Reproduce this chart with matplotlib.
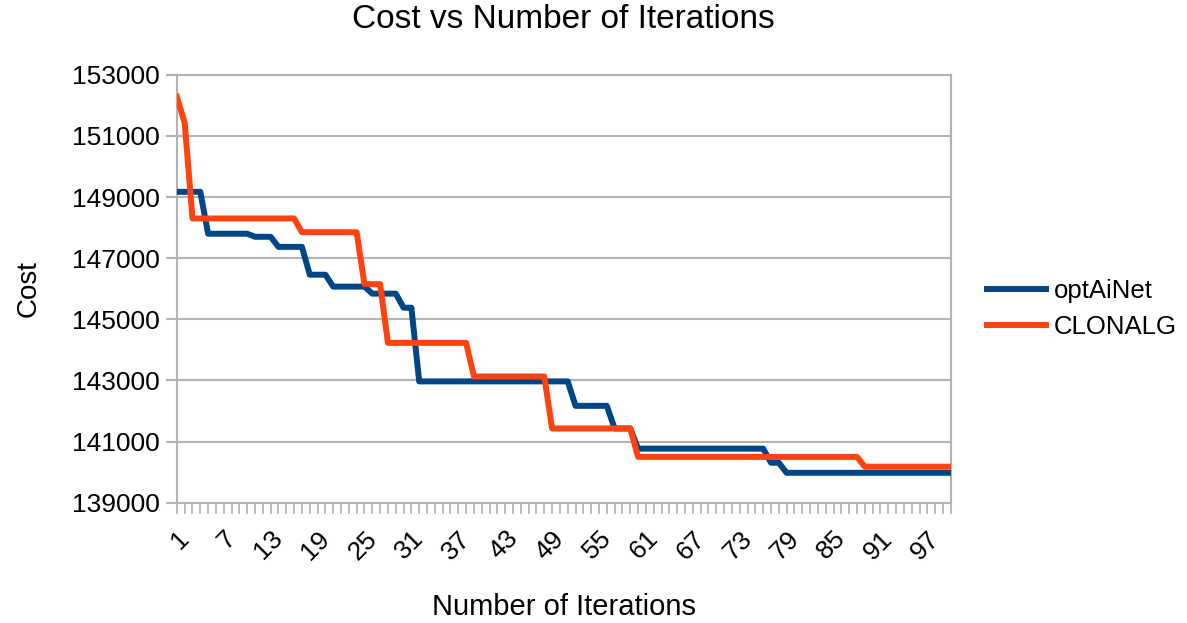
import numpy as np
import matplotlib
matplotlib.use("Agg")
import matplotlib.pyplot as plt

plt.rcParams["font.family"] = ["Liberation Sans", "DejaVu Sans"]

# iteration number 1..100
iterations = list(range(1, 101))

# optAiNet cost per iteration (step runs)
opt_runs = [
    (4, 149170), (6, 147800), (3, 147700), (4, 147370), (3, 146460),
    (5, 146070), (4, 145840), (2, 145380), (20, 142970), (5, 142170),
    (3, 141430), (17, 140770), (2, 140310), (22, 139980),
]
# CLONALG cost per iteration
clon_runs = [
    (1, 152280), (1, 151430), (14, 148300), (8, 147850), (3, 146150),
    (11, 144230), (10, 143130), (11, 141430), (29, 140500), (12, 140180),
]

opt_ainet = [v for n, v in opt_runs for _ in range(n)]
clonalg = [v for n, v in clon_runs for _ in range(n)]

tick_labels = [str(i) for i in range(1, 101, 6)]

fig = plt.figure(figsize=(11.87, 6.23), dpi=100)
ax = fig.add_axes([0.149, 0.193, 0.652, 0.687])

grey = "#b3b3b3"
ax.plot(iterations, opt_ainet, color="#004586", lw=4.3, label="optAiNet",
        solid_joinstyle="round", zorder=3)
ax.plot(iterations, clonalg, color="#ff420e", lw=4.3, label="CLONALG",
        solid_joinstyle="round", zorder=4)

ax.set_xlim(1, 100)
ax.set_ylim(139000, 153000)
ax.set_yticks(range(139000, 153001, 2000))
ax.set_yticklabels([str(v) for v in range(139000, 153001, 2000)], fontsize=19)
ax.set_xticks(range(1, 101, 6))
ax.set_xticklabels(tick_labels, fontsize=19, rotation=45, ha="right",
                   rotation_mode="anchor")
ax.set_xticks(iterations, minor=True)

ax.grid(axis="y", color=grey, lw=1.5)
ax.tick_params(axis="y", length=8, width=1.5, color=grey, pad=4)
ax.tick_params(axis="x", which="both", length=8, width=1.2, color=grey, pad=9)
for side in ["left", "right", "bottom", "top"]:
    ax.spines[side].set_color(grey)
    ax.spines[side].set_linewidth(1.5)

ax.set_title("Cost vs Number of Iterations", fontsize=24, pad=34)
ax.set_xlabel("Number of Iterations", fontsize=21, labelpad=21)
ax.set_ylabel("Cost", fontsize=20, labelpad=22)

leg = ax.legend(loc="center left", bbox_to_anchor=(987 / 1187, 1 - 309 / 623),
                bbox_transform=fig.transFigure, frameon=False,
                fontsize=18.5, handlelength=2.3, handletextpad=0.3,
                labelspacing=0.48, borderpad=0, borderaxespad=0)

fig.savefig("out.png", dpi=100)
